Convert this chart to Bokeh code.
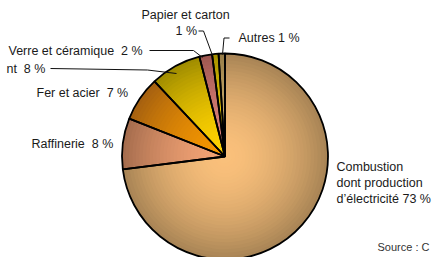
import numpy as np
from bokeh.plotting import figure
from bokeh.models import Range1d
from bokeh.core.properties import value
from bokeh.embed import file_html
from bokeh.resources import INLINE

# ---- data ----
categories = ["Combustion dont production d’électricité", "Raffinerie", "Fer et acier",
              "Ciment", "Verre et céramique", "Papier et carton", "Autres"]
shares = [73, 8, 7, 8, 2, 1, 1]

# ---- styles ----
inner_colors = ["#FAC07B", "#F2A274", "#F49600", "#FFD200", "#DE8279", "#F6D600", "#D6B672"]
outer_colors = ["#A98556", "#A66D4E", "#A66110", "#A08D00", "#9E5750", "#A69000", "#977D48"]

W, H = 433, 257
OFF = 0
def Y(page_y):
    return H + OFF - page_y

cx, cy, R = 224.5, Y(156), 103

p = figure(width=W, height=H, output_backend="svg", toolbar_location=None,
           x_range=Range1d(OFF, OFF + W), y_range=Range1d(0, H),
           min_border=0, outline_line_color=None, background_fill_color="white")
p.axis.visible = False
p.grid.visible = False

vals = np.array(shares, dtype=float)
frac = vals / vals.sum()
c1 = np.cumsum(frac)
c0 = c1 - frac
starts = list(np.pi / 2 - 2 * np.pi * c0)
ends = list(np.pi / 2 - 2 * np.pi * c1)

def hex2rgb(h):
    h = h.lstrip("#")
    return np.array([int(h[i:i + 2], 16) for i in (0, 2, 4)], dtype=float)

def rgb2hex(c):
    c = np.clip(np.round(c), 0, 255).astype(int)
    return "#%02x%02x%02x" % tuple(c)

inn = [hex2rgb(c) for c in inner_colors]
out = [hex2rgb(c) for c in outer_colors]

N = 30
for k in range(N, 0, -1):
    t = k / N
    m = t ** 1.8
    cols = [rgb2hex(a + (b - a) * m) for a, b in zip(inn, out)]
    p.wedge(x=[cx] * len(shares), y=[cy] * len(shares), radius=R * t,
            start_angle=starts, end_angle=ends, direction="clock",
            fill_color=cols, line_color=None)

p.wedge(x=[cx] * len(shares), y=[cy] * len(shares), radius=R,
        start_angle=starts, end_angle=ends, direction="clock",
        fill_color=None, line_color="black", line_width=1.8)

# ---- labels ----
font = value("Liberation Sans")
NB = "\u00a0 "
lab_x = [141, 175, 238, 8, 6, 36, 31, 336, 336, 336]
lab_y = [14, 30, 37, 50, 68, 92.7, 143, 166.5, 182.5, 198.5]
lab_t = ["Papier et carton", "1 %", "Autres 1 %", "Verre et céramique" + NB + "2 %",
         "nt" + NB + "8 %", "Fer et acier" + NB + "7 %", "Raffinerie" + NB + "8 %",
         "Combustion", "dont production", "d’électricité 73 %"]
p.text(x=lab_x, y=[Y(v) for v in lab_y], text=lab_t, text_font=font,
       text_font_size="12.5px", text_baseline="middle", text_align="left",
       text_color="#1a1a1a")

p.text(x=[377], y=[Y(246)], text=["Source : C"], text_font=font,
       text_font_size="11px", text_baseline="middle", text_align="left",
       text_color="#333333")

# leader lines
lx = [[198, 203, 212], [229, 223.5, 222], [149, 193, 202], [50, 147, 176]]
ly = [[30.5, 30.5, 55], [37.5, 37.5, 54], [50, 50, 57], [68, 69.5, 73]]
p.multi_line(xs=lx, ys=[[Y(v) for v in row] for row in ly],
             line_color="#111111", line_width=1)

open("out.html", "w").write(file_html(p, INLINE))
